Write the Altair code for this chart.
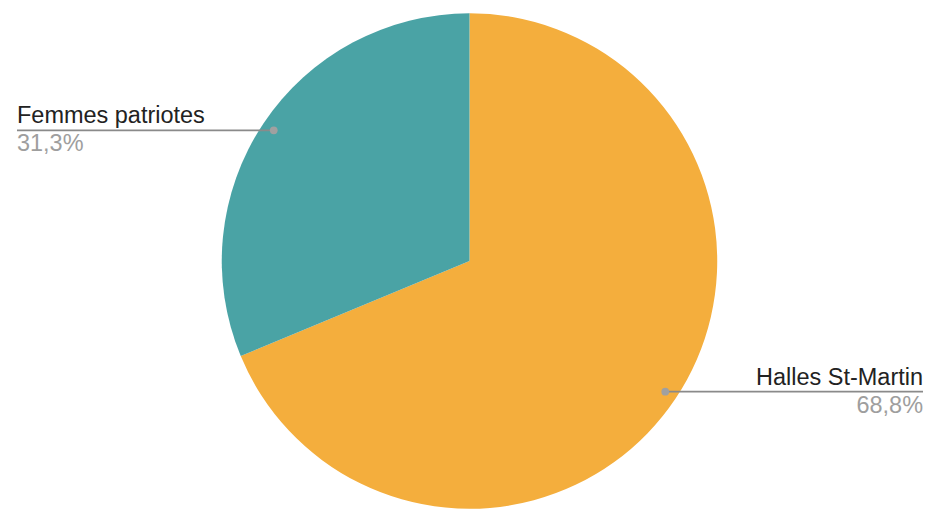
import math
import altair as alt
import pandas as pd

names = ["Halles St-Martin", "Femmes patriotes"]
values = [68.8, 31.3]
pct_labels = ["68,8%", "31,3%"]
colors = ["#F4AE3D", "#4AA3A5"]

W, H, R = 922, 506, 248
total = sum(values)
rows = []
cum = 0.0
for i, (n, v, p) in enumerate(zip(names, values, pct_labels)):
    mid = (cum + v / 2) / total * 2 * math.pi
    cum += v
    px = 0.95 * math.sin(mid)
    py = 0.95 * math.cos(mid)
    side = "right" if px > 0 else "left"
    edge = (W / 2 - 7) / R if px > 0 else -(W / 2 - 8) / R
    rows.append(dict(name=n, value=v, pct=p, order=i, px=px, py=py, edge=edge, side=side))
df = pd.DataFrame(rows)

xs = alt.Scale(domain=[-W / 2 / R, W / 2 / R])
ys = alt.Scale(domain=[-H / 2 / R, H / 2 / R])

pie = alt.Chart(df).mark_arc(outerRadius=R).encode(
    theta=alt.Theta("value:Q", stack=True),
    color=alt.Color("name:N", scale=alt.Scale(domain=names, range=colors), legend=None),
    order=alt.Order("order:Q"),
)

base = alt.Chart(df)
rule = base.mark_rule(color="#8a8a8a", strokeWidth=1.6).encode(
    x=alt.X("px:Q", scale=xs, axis=None),
    x2="edge:Q",
    y=alt.Y("py:Q", scale=ys, axis=None),
)
dot = base.mark_circle(color="#a0a0a0", size=60, opacity=1).encode(
    x=alt.X("px:Q", scale=xs, axis=None),
    y=alt.Y("py:Q", scale=ys, axis=None),
)

layers = [pie, rule, dot]
for side in ["left", "right"]:
    b = base.transform_filter(alt.datum.side == side)
    layers.append(
        b.mark_text(align=side, baseline="alphabetic", dy=-7, fontSize=23.5,
                    font="Liberation Sans", color="#222222").encode(
            x=alt.X("edge:Q", scale=xs, axis=None),
            y=alt.Y("py:Q", scale=ys, axis=None),
            text="name:N",
        )
    )
    layers.append(
        b.mark_text(align=side, baseline="alphabetic", dy=21, fontSize=23.5,
                    font="Liberation Sans", color="#9e9e9e").encode(
            x=alt.X("edge:Q", scale=xs, axis=None),
            y=alt.Y("py:Q", scale=ys, axis=None),
            text="pct:N",
        )
    )

chart = alt.layer(*layers).properties(
    width=W, height=H,
    padding={"left": 1, "top": 0, "right": 0, "bottom": 0},
    autosize=alt.AutoSizeParams(type="none"),
).configure_view(stroke=None)

chart.save("out.html", embed_options={"renderer": "svg", "actions": False})
